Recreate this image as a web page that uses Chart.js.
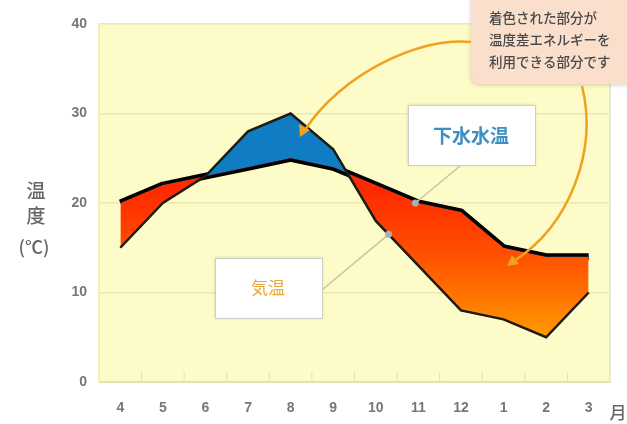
<!DOCTYPE html>
<html>
<head>
<meta charset="utf-8">
<script src="https://cdn.jsdelivr.net/npm/chart.js@4"></script>
<style>
  body { margin: 0; background: #fff; }
  canvas { display: block; }
</style>
</head>
<body>
<canvas id="tempChart" width="627" height="424"></canvas>
<script>
// months, April to March
const months = ["4", "5", "6", "7", "8", "9", "10", "11", "12", "1", "2", "3"];
const airTemp = [15, 20, 23, 28, 30, 26, 18, 13, 8, 7, 5, 10];
const sewerTemp = [20, 22, 23, 24, 25, 24, 22, 20, 19, 15, 14, 14];
const yTicks = [0, 10, 20, 30, 40];

const canvas = document.getElementById("tempChart");
const ctx = canvas.getContext("2d");

// red -> orange where sewer water is warmer than air
const warmFill = ctx.createLinearGradient(0, 190, 0, 340);
warmFill.addColorStop(0, "#ff2a00");
warmFill.addColorStop(0.45, "#ff5200");
warmFill.addColorStop(1, "#ff9c00");

const tickFont = { family: "'Liberation Sans', Arial, sans-serif", size: 14, weight: "bold" };

const decorations = {
    id: "decorations",
    beforeDraw(chart) {
        const { ctx, chartArea: a } = chart;
        ctx.save();
        ctx.fillStyle = "#fdfbc8";
        ctx.fillRect(a.left, a.top, a.right - a.left, a.bottom - a.top);
        ctx.strokeStyle = "#e2e0d0";
        ctx.lineWidth = 1.5;
        ctx.beginPath();
        ctx.moveTo(a.right, a.top);
        ctx.lineTo(a.right, a.bottom);
        ctx.stroke();
        ctx.restore();
    },
    afterDatasetsDraw(chart) {
        const { ctx, chartArea: a, scales: { x, y } } = chart;
        ctx.save();

        // small ticks between months along the bottom
        ctx.strokeStyle = "#e6e3ad";
        ctx.lineWidth = 1;
        for (let i = 0; i < months.length - 1; i++) {
            const px = (x.getPixelForValue(i) + x.getPixelForValue(i + 1)) / 2;
            ctx.beginPath();
            ctx.moveTo(px, a.bottom);
            ctx.lineTo(px, a.bottom - 10);
            ctx.stroke();
        }

        // leader lines and dots
        const waterIdx = 7;
        const wx = x.getPixelForValue(waterIdx) - 3;
        const wy = y.getPixelForValue(sewerTemp[waterIdx]);
        const t = 0.3;
        const ax = x.getPixelForValue(6 + t);
        const ay = y.getPixelForValue(airTemp[6] + (airTemp[7] - airTemp[6]) * t);

        ctx.strokeStyle = "#c9c79a";
        ctx.lineWidth = 1.5;
        ctx.beginPath(); ctx.moveTo(460, 166); ctx.lineTo(wx, wy); ctx.stroke();
        ctx.beginPath(); ctx.moveTo(322, 290); ctx.lineTo(ax, ay); ctx.stroke();
        ctx.fillStyle = "#a9b0b6";
        [[wx, wy], [ax, ay]].forEach(([px, py]) => {
            ctx.beginPath(); ctx.arc(px, py, 3.5, 0, Math.PI * 2); ctx.fill();
        });

        // label boxes
        ctx.shadowColor = "rgba(0,0,0,0.18)";
        ctx.shadowBlur = 3;
        ctx.fillStyle = "#fff";
        ctx.fillRect(408, 105, 127, 60);
        ctx.fillRect(215, 258, 107, 60);
        ctx.shadowBlur = 0;
        ctx.strokeStyle = "#cfcfc4";
        ctx.lineWidth = 1;
        ctx.strokeRect(408.5, 105.5, 127, 60);
        ctx.strokeRect(215.5, 258.5, 107, 60);

        ctx.textAlign = "center";
        ctx.textBaseline = "middle";
        ctx.font = "bold 19px 'Noto Sans CJK JP'";
        ctx.fillStyle = "#3b8fc2";
        ctx.fillText("下水水温", 471, 136);
        ctx.font = "17px 'Noto Sans CJK JP'";
        ctx.fillStyle = "#eaa83a";
        ctx.fillText("気温", 268, 288);

        // callout
        ctx.shadowColor = "rgba(120,80,60,0.3)";
        ctx.shadowBlur = 4;
        ctx.shadowOffsetY = 1;
        ctx.fillStyle = "#f9dfcc";
        ctx.beginPath();
        ctx.roundRect(471, -10, 180, 94, 8);
        ctx.fill();
        ctx.shadowColor = "transparent";
        ctx.fillStyle = "#4a4a4a";
        ctx.textAlign = "left";
        ctx.font = "500 13.5px 'Noto Sans CJK JP'";
        ctx.fillText("着色された部分が", 489, 18);
        ctx.fillText("温度差エネルギーを", 489, 40);
        ctx.fillText("利用できる部分です", 489, 62);

        // orange arrows
        ctx.strokeStyle = "#f0a21e";
        ctx.fillStyle = "#f0a21e";
        ctx.lineWidth = 2.5;
        ctx.beginPath();
        ctx.moveTo(471, 42);
        ctx.bezierCurveTo(420, 36, 340, 75, 305, 130);
        ctx.stroke();
        ctx.beginPath();
        ctx.moveTo(300, 137); ctx.lineTo(299, 124); ctx.lineTo(310, 130);
        ctx.closePath(); ctx.fill();

        ctx.beginPath();
        ctx.moveTo(582, 86);
        ctx.bezierCurveTo(598, 150, 570, 225, 514, 261);
        ctx.stroke();
        ctx.beginPath();
        ctx.moveTo(507, 266); ctx.lineTo(512, 255); ctx.lineTo(519, 264);
        ctx.closePath(); ctx.fill();

        // axis titles
        ctx.fillStyle = "#666";
        ctx.textAlign = "center";
        ctx.font = "500 19px 'Noto Sans CJK JP'";
        ctx.fillText("温", 36, 191);
        ctx.fillText("度", 36, 216);
        ctx.font = "500 18px 'Noto Sans CJK JP'";
        ctx.fillText("(℃)", 34, 247);
        ctx.font = "500 17px 'Noto Sans CJK JP'";
        ctx.fillText("月", 618, 413);

        ctx.restore();
    }
};

new Chart(canvas, {
    type: "line",
    data: {
        labels: months,
        datasets: [
            {
                label: "気温",
                data: airTemp,
                borderColor: "#1e1a14",
                borderWidth: 2.5,
                pointRadius: 0,
                tension: 0,
                fill: { target: 1, above: "#0f7cc4", below: warmFill }
            },
            {
                label: "下水水温",
                data: sewerTemp,
                borderColor: "#000",
                borderWidth: 7,
                borderJoinStyle: "round",
                pointRadius: 0,
                tension: 0,
                fill: false
            }
        ]
    },
    options: {
        responsive: false,
        animation: false,
        layout: { padding: { top: 24, right: 17, left: 0, bottom: 0 } },
        plugins: {
            legend: { display: false },
            tooltip: { enabled: false }
        },
        scales: {
            x: {
                offset: true,
                grid: { display: false, drawTicks: false },
                border: { color: "#e4e1ae", width: 2 },
                ticks: { color: "#777", font: tickFont, padding: 18 },
                afterFit: s => { s.height = 42; }
            },
            y: {
                min: 0,
                max: 40,
                afterBuildTicks: s => { s.ticks = yTicks.map(v => ({ value: v })); },
                grid: { color: "#ece9b0", lineWidth: 1.5, drawTicks: false },
                border: { color: "#f1eec0", width: 2 },
                ticks: { color: "#777", font: tickFont, padding: 12 },
                afterFit: s => { s.width = 99; }
            }
        }
    },
    plugins: [decorations]
});
</script>
</body>
</html>
